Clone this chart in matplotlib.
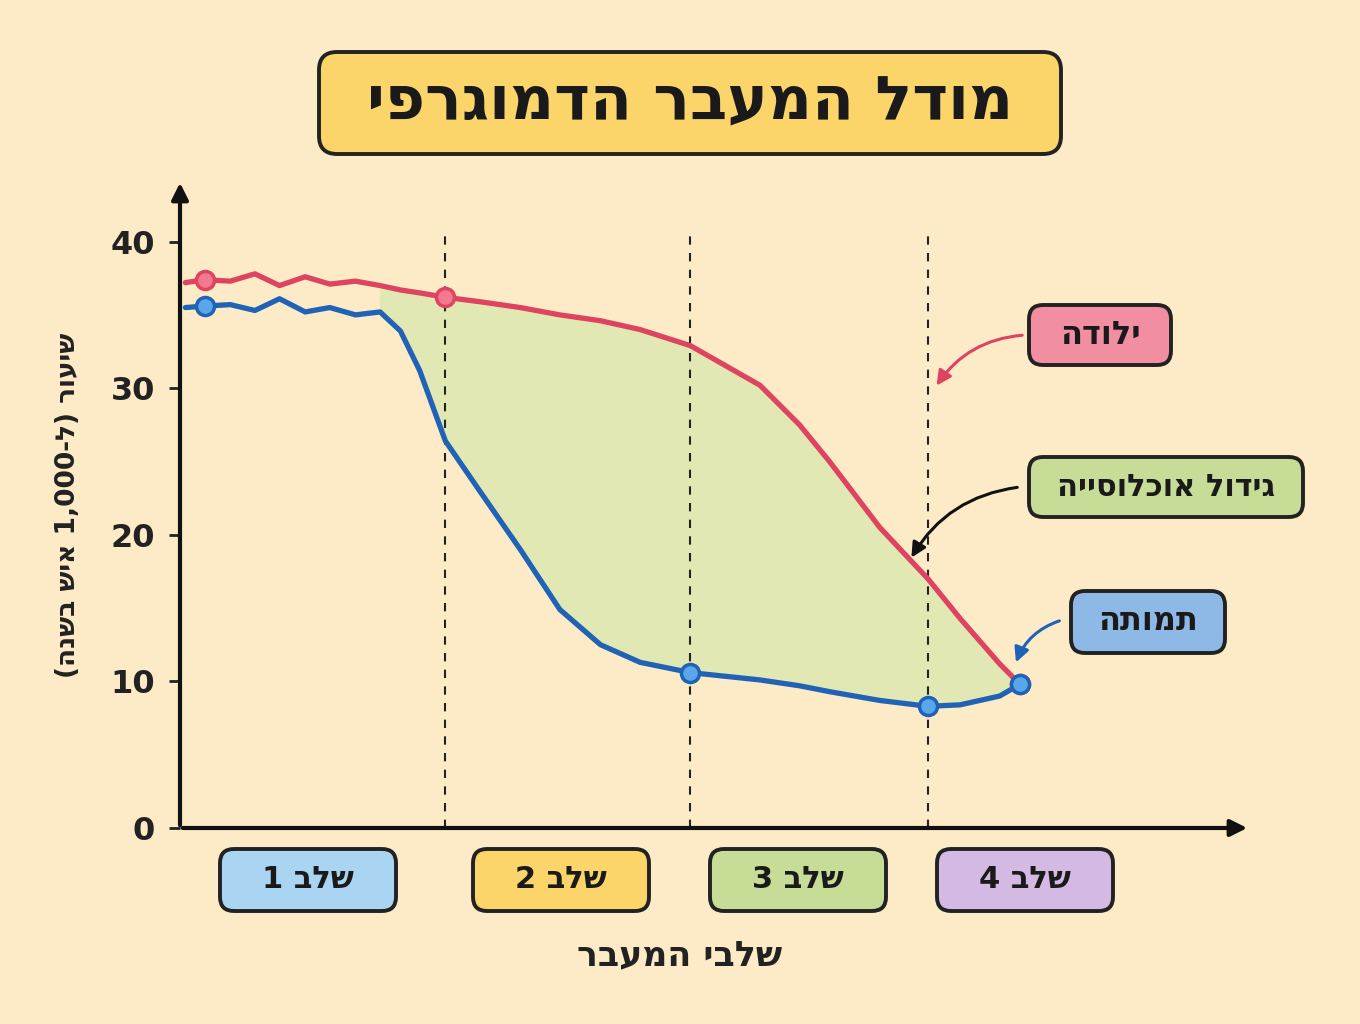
import matplotlib
matplotlib.use("Agg")
import matplotlib.pyplot as plt
from matplotlib.patches import FancyBboxPatch, FancyArrowPatch

# Hebrew strings are stored in visual (left-to-right) order for rendering
title = "יפרגומדה רבעמה לדומ"
ylabel = "(הנשב שיא 1,000-ל) רועיש"
xlabel = "רבעמה יבלש"
stages = ["1 בלש", "2 בלש", "3 בלש", "4 בלש"]
stage_colors = ["#A9D5F2", "#FBD46A", "#C6DC97", "#D4BAE3"]
lbl_birth, lbl_growth, lbl_death = "הדולי", "הייסולכוא לודיג", "התומת"

t = [0.5, 2.3, 4.7, 7.0, 9.3, 11.7, 14.0, 16.4, 18.7, 20.6, 22.4, 24.8, 28.0, 31.8,
     35.5, 39.3, 43.0, 47.7, 54.2, 57.9, 60.7, 65.4, 69.9, 72.9, 76.6, 78.5]
birth = [37.2, 37.4, 37.3, 37.8, 37.0, 37.6, 37.1, 37.3, 37.0, 36.7, 36.5, 36.2, 35.9, 35.5,
         35.0, 34.6, 34.0, 32.9, 30.2, 27.5, 25.0, 20.5, 17.0, 14.3, 11.2, 9.8]
death = [35.5, 35.6, 35.7, 35.3, 36.1, 35.2, 35.5, 35.0, 35.2, 33.9, 31.2, 26.4, 23.0, 19.0,
         14.9, 12.5, 11.3, 10.6, 10.1, 9.7, 9.3, 8.7, 8.3, 8.4, 9.0, 9.8]
birth_marks = [1, 11, 25]
death_marks = [1, 17, 22, 25]
boundaries = [24.8, 47.7, 69.9]
yticks = [0, 10, 20, 30, 40]

BG = "#FCEBC6"
RED, BLUE = "#DE4460", "#1F62B6"
plt.rcParams['font.family'] = ['DejaVu Sans']
fig = plt.figure(figsize=(13.6, 10.24), dpi=100, facecolor=BG)
ax = fig.add_axes([180/1360, 1-828/1024, 1070/1360, 648/1024])
ax.set_facecolor(BG)
ax.set_xlim(0, 100)
ax.set_ylim(0, 44.2)
for s in ax.spines.values():
    s.set_visible(False)

fill_idx = [i for i, x in enumerate(t) if x >= 18.7]
ax.fill_between([t[i] for i in fill_idx], [death[i] for i in fill_idx], [birth[i] for i in fill_idx],
                color="#E2E8B4", zorder=1)
for b in boundaries:
    ax.axvline(b, ymax=40.5/44.2, color="#222", ls=(0, (4, 4)), lw=1.5, zorder=1)
ax.plot(t, birth, color=RED, lw=3.8, zorder=3, solid_joinstyle='round', solid_capstyle='round')
ax.plot(t, death, color=BLUE, lw=3.8, zorder=3, solid_joinstyle='round', solid_capstyle='round')
ax.plot([t[i] for i in birth_marks], [birth[i] for i in birth_marks], 'o', ms=13,
        mfc="#F27A8E", mec=RED, mew=2.5, zorder=4)
ax.plot([t[i] for i in death_marks], [death[i] for i in death_marks], 'o', ms=13,
        mfc="#5AA6EA", mec=BLUE, mew=2.5, zorder=4)

ax.set_yticks(yticks)
ax.set_yticklabels([str(v) for v in yticks], fontsize=23, fontweight='bold', color="#222")
ax.tick_params(axis='y', length=8, width=2, pad=10, color="#222")
ax.set_xticks([])
ax.annotate("", xy=(0, 1.0), xytext=(0, 0), xycoords='axes fraction',
            arrowprops=dict(arrowstyle='-|>', lw=3, color="#111", mutation_scale=25))
ax.annotate("", xy=(1.0, 0), xytext=(0, 0), xycoords='axes fraction',
            arrowprops=dict(arrowstyle='-|>', lw=3, color="#111", mutation_scale=25))

def px(x, y):
    return (x/1360, 1-y/1024)

def rbox(cx, cy, w, h, fc, text, size, r=14):
    x0, y0 = px(cx - w/2, cy + h/2)
    fig.add_artist(FancyBboxPatch((x0, y0), w/1360, h/1024, transform=fig.transFigure,
                   boxstyle=f"round,pad=0,rounding_size={r/1360}", fc=fc, ec="#222", lw=2.8,
                   mutation_aspect=1360/1024))
    fig.text(*px(cx, cy), text, ha='center', va='center', fontsize=size, fontweight='bold',
             color="#1a1a1a")

rbox(690, 103, 742, 102, "#FBD46A", title, 44, r=18)
for x, s, c in zip([308, 561, 798, 1025], stages, stage_colors):
    rbox(x, 880, 176, 62, c, s, 22)
fig.text(*px(680, 955), xlabel, ha='center', va='center', fontsize=25, fontweight='bold', color="#222")
fig.text(*px(68, 505), ylabel, ha='center', va='center', fontsize=19, fontweight='bold',
         rotation=90, color="#222")

rbox(1100, 335, 142, 60, "#F28EA2", lbl_birth, 23)
rbox(1166, 487, 274, 60, "#C6DC97", lbl_growth, 22)
rbox(1148, 622, 154, 62, "#8EB9E7", lbl_death, 23)
for (x0, y0), (x1, y1), c in [((1025, 335), (935, 388), RED),
                              ((1020, 487), (910, 560), "#111"),
                              ((1062, 620), (1015, 665), BLUE)]:
    fig.add_artist(FancyArrowPatch(px(x0, y0), px(x1, y1), transform=fig.transFigure,
                   connectionstyle="arc3,rad=0.25", arrowstyle='-|>', mutation_scale=22, lw=2.2, color=c))

fig.savefig("out.png", dpi=100, facecolor=BG)
